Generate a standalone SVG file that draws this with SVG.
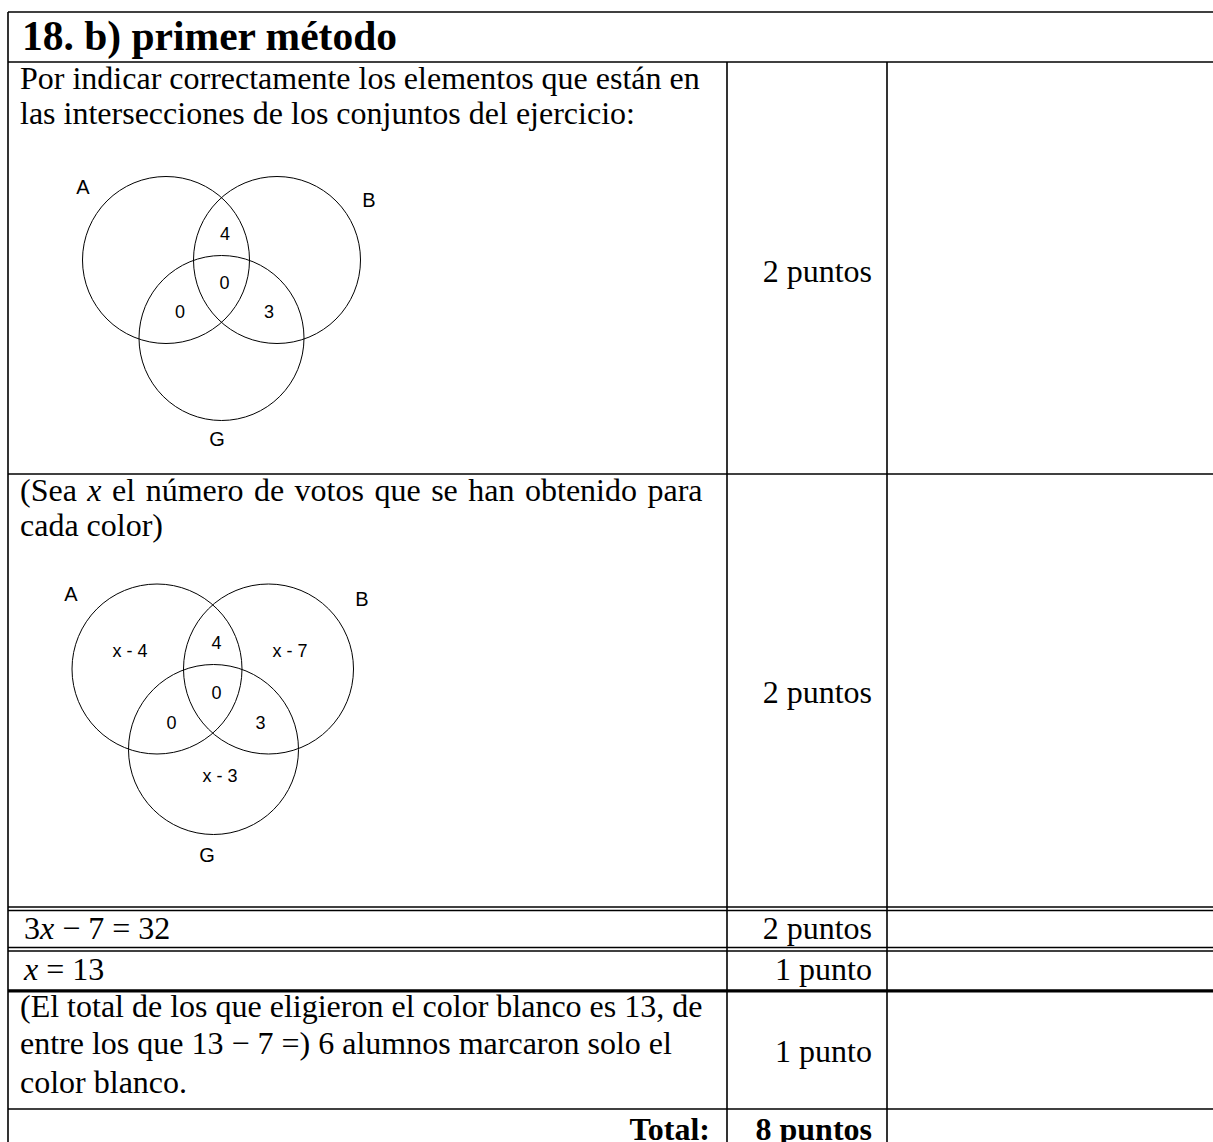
<svg xmlns="http://www.w3.org/2000/svg" width="1213" height="1142" viewBox="0 0 1213 1142">
<style>
.ln{stroke:#000;stroke-width:1.6;fill:none}
.thk{stroke:#000;stroke-width:3.2;fill:none}
.t{font-family:"Liberation Serif","Times New Roman",serif;font-size:32px;fill:#000}
.r{text-anchor:end}
.b{font-weight:bold}
.h{font-family:"Liberation Serif","Times New Roman",serif;font-size:41.5px;font-weight:bold;fill:#000}
.c{stroke:#000;stroke-width:1;fill:none}
.v{font-family:"Liberation Sans",Arial,sans-serif;font-size:20px;fill:#000;text-anchor:middle}
.n{font-family:"Liberation Sans",Arial,sans-serif;font-size:18px;fill:#000;text-anchor:middle}
</style>
<rect width="1213" height="1142" fill="#fff"/>
<g id="grid">
<line class="ln" x1="8" y1="12" x2="1213" y2="12"/>
<line class="ln" x1="8" y1="12" x2="8" y2="1142"/>
<line class="ln" x1="8" y1="62" x2="1213" y2="62"/>
<line class="ln" x1="727" y1="62" x2="727" y2="1142"/>
<line class="ln" x1="887" y1="62" x2="887" y2="1142"/>
<line class="ln" x1="8" y1="474" x2="1213" y2="474"/>
<line class="ln" x1="8" y1="907" x2="1213" y2="907"/>
<line class="ln" x1="8" y1="910.5" x2="1213" y2="910.5"/>
<line class="ln" x1="8" y1="947.5" x2="1213" y2="947.5"/>
<line class="ln" x1="8" y1="951" x2="1213" y2="951"/>
<line class="thk" x1="8" y1="990.8" x2="1213" y2="990.8"/>
<line class="ln" x1="8" y1="1109" x2="1213" y2="1109"/>
</g>
<g id="title"><text class="h" x="22" y="50">18. b) primer método</text></g>
<g id="row1">
<text class="t" x="20" y="89">Por indicar correctamente los elementos que están en</text>
<text class="t" x="20" y="123.5">las intersecciones de los conjuntos del ejercicio:</text>
<text class="t r" x="872" y="282">2 puntos</text>
<g id="venn1">
<circle class="c" cx="166" cy="260" r="83.5"/>
<circle class="c" cx="277" cy="260" r="83.5"/>
<circle class="c" cx="221.5" cy="338" r="82.5"/>
<text class="v" x="83" y="194">A</text>
<text class="v" x="369" y="207">B</text>
<text class="v" x="217" y="446">G</text>
<text class="n" x="225" y="240">4</text>
<text class="n" x="224.5" y="289">0</text>
<text class="n" x="180" y="317.5">0</text>
<text class="n" x="269" y="317.5">3</text>
</g>
</g>
<g id="row2">
<text class="t" x="20" y="501" word-spacing="2.5">(Sea <tspan font-style="italic">x</tspan> el número de votos que se han obtenido para</text>
<text class="t" x="20" y="535.5">cada color)</text>
<text class="t r" x="872" y="703">2 puntos</text>
<g id="venn2">
<circle class="c" cx="157" cy="669" r="85"/>
<circle class="c" cx="268.5" cy="669" r="85"/>
<circle class="c" cx="213.5" cy="749.5" r="85"/>
<text class="v" x="71" y="601">A</text>
<text class="v" x="362" y="605.5">B</text>
<text class="v" x="207" y="862">G</text>
<text class="n" x="130" y="656.5">x - 4</text>
<text class="n" x="216.5" y="648.5">4</text>
<text class="n" x="290" y="656.5">x - 7</text>
<text class="n" x="216.5" y="699">0</text>
<text class="n" x="171.5" y="728.5">0</text>
<text class="n" x="260.5" y="728.5">3</text>
<text class="n" x="220" y="781.5">x - 3</text>
</g>
</g>
<g id="row3">
<text class="t" x="24" y="939">3<tspan font-style="italic">x</tspan> − 7 = 32</text>
<text class="t r" x="872" y="939">2 puntos</text>
</g>
<g id="row4">
<text class="t" x="24" y="980"><tspan font-style="italic">x</tspan> = 13</text>
<text class="t r" x="872" y="980">1 punto</text>
</g>
<g id="row5">
<text class="t" x="20" y="1017">(El total de los que eligieron el color blanco es 13, de</text>
<text class="t" x="20" y="1054">entre los que 13 − 7 =) 6  alumnos marcaron solo el</text>
<text class="t" x="20" y="1092.5">color blanco.</text>
<text class="t r" x="872" y="1062">1 punto</text>
</g>
<g id="row6">
<text class="t r b" x="710" y="1140">Total:</text>
<text class="t r b" x="872" y="1140">8 puntos</text>
</g>
</svg>
